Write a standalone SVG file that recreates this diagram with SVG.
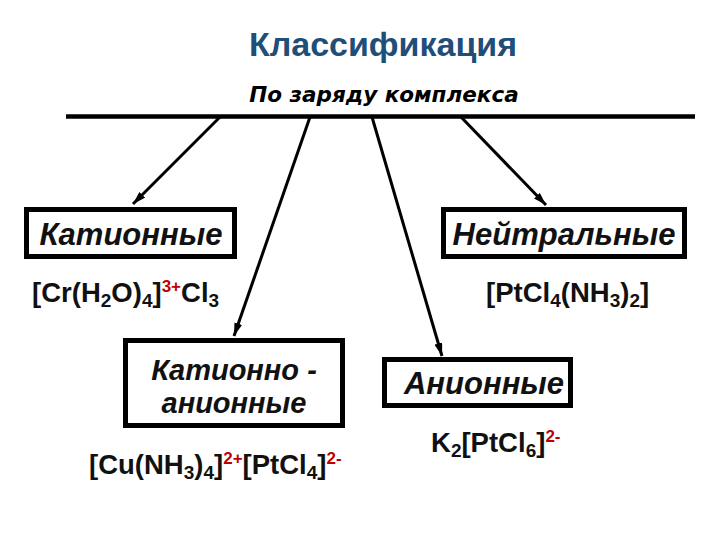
<svg xmlns="http://www.w3.org/2000/svg" width="720" height="540" viewBox="0 0 720 540">
<defs>
<marker id="ah" viewBox="0 0 13 8" refX="13" refY="4" markerWidth="13" markerHeight="8" markerUnits="userSpaceOnUse" orient="auto">
<path d="M0,0 L13,4 L0,8 Z" fill="#000"/>
</marker>
</defs>
<style>
.title{font-family:"Liberation Sans",Arial,sans-serif;font-weight:bold;font-size:34px;fill:#1F4E79}
.sub{font-family:"DejaVu Sans",Verdana,sans-serif;font-weight:bold;font-style:italic;font-size:21.5px;fill:#000}
.box{fill:#fff;stroke:#000;stroke-width:5}
.lbl{font-family:"Liberation Sans",Arial,sans-serif;font-weight:bold;font-style:italic;font-size:31px;fill:#111}
.lbl2{font-size:29px}
.f{font-family:"Liberation Sans",Arial,sans-serif;font-weight:bold;font-size:27.5px;fill:#111}
.sb{font-size:19px}
.sp{font-size:17px;fill:#C00000}
.conn line{stroke:#000;stroke-width:3;marker-end:url(#ah)}
</style>
<rect width="720" height="540" fill="#fff"/>
<g id="header">
<text class="title" x="383" y="56" text-anchor="middle">Классификация</text>
<text class="sub" x="384" y="102" text-anchor="middle">По заряду комплекса</text>
<line x1="66" y1="116.5" x2="695" y2="116.5" stroke="#000" stroke-width="4.5"/>
</g>
<g id="connectors" class="conn">
<line x1="220" y1="117" x2="133" y2="204"/>
<line x1="310" y1="117" x2="234" y2="336"/>
<line x1="372" y1="117" x2="442" y2="356"/>
<line x1="461" y1="117" x2="546" y2="205"/>
</g>
<g id="cationic">
<rect class="box" x="26.5" y="209.5" width="208" height="47"/>
<text class="lbl" x="131" y="245" text-anchor="middle">Катионные</text>
<text class="f" x="32" y="302">[Cr(H<tspan class="sb" dy="5">2</tspan><tspan dy="-5">O)</tspan><tspan class="sb" dy="5">4</tspan><tspan dy="-5">]</tspan><tspan class="sp" dy="-10">3+</tspan><tspan dy="10">Cl</tspan><tspan class="sb" dy="5">3</tspan></text>
</g>
<g id="neutral">
<rect class="box" x="443.5" y="209.5" width="241" height="47"/>
<text class="lbl" x="564" y="245" text-anchor="middle">Нейтральные</text>
<text class="f" x="486" y="302">[PtCl<tspan class="sb" dy="5">4</tspan><tspan dy="-5">(NH</tspan><tspan class="sb" dy="5">3</tspan><tspan dy="-5">)</tspan><tspan class="sb" dy="5">2</tspan><tspan dy="-5">]</tspan></text>
</g>
<g id="cationic-anionic">
<rect class="box" x="125.5" y="340.5" width="217" height="85"/>
<text class="lbl lbl2" x="234" y="380" text-anchor="middle">Катионно -</text>
<text class="lbl lbl2" x="234" y="413" text-anchor="middle">анионные</text>
<text class="f" x="89" y="474">[Cu(NH<tspan class="sb" dy="5">3</tspan><tspan dy="-5">)</tspan><tspan class="sb" dy="5">4</tspan><tspan dy="-5">]</tspan><tspan class="sp" dy="-10">2+</tspan><tspan dy="10">[PtCl</tspan><tspan class="sb" dy="5">4</tspan><tspan dy="-5">]</tspan><tspan class="sp" dy="-10">2-</tspan></text>
</g>
<g id="anionic">
<rect class="box" x="384.5" y="359.5" width="186" height="46"/>
<text class="lbl" x="484" y="394" text-anchor="middle">Анионные</text>
<text class="f" x="431" y="452">K<tspan class="sb" dy="5">2</tspan><tspan dy="-5">[PtCl</tspan><tspan class="sb" dy="5">6</tspan><tspan dy="-5">]</tspan><tspan class="sp" dy="-10">2-</tspan></text>
</g>
</svg>
